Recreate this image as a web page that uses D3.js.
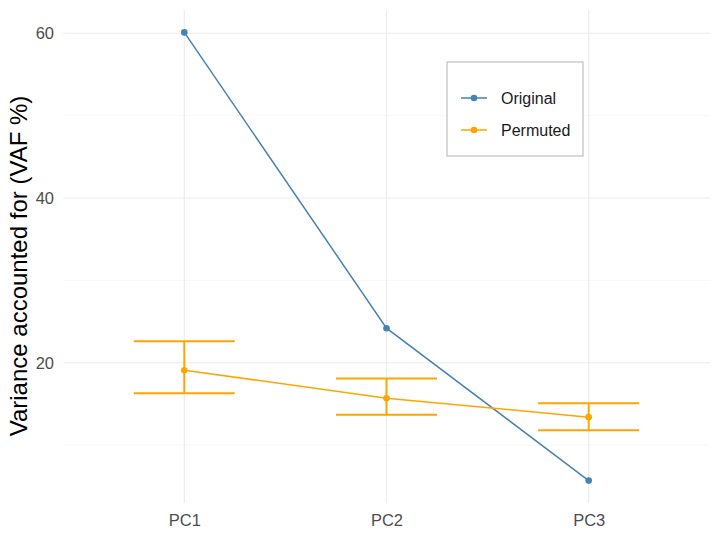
<!DOCTYPE html>
<html>
<head>
<meta charset="utf-8">
<script src="https://cdn.jsdelivr.net/npm/d3@7"></script>
<style>
  body { margin: 0; background: #fff; }
  text { font-family: "Liberation Sans", Arial, sans-serif; }
</style>
</head>
<body>
<div id="chart"></div>
<script>
// data
var components = ["PC1", "PC2", "PC3"];
var originalVaf = [60.1, 24.2, 5.7];
var permutedVaf = [19.1, 15.7, 13.4];
var permutedLow = [16.3, 13.7, 11.8];
var permutedHigh = [22.6, 18.1, 15.1];
var yTicks = [20, 40, 60];
var yMinorTicks = [10, 30, 50];
var seriesNames = ["Original", "Permuted"];
var seriesColors = ["#4682B4", "#FFA500"];

function init() {
    var W = 720, H = 539;
    var margin = { top: 10, right: 10, bottom: 36, left: 63 },
        w = W - margin.left - margin.right,
        h = H - margin.top - margin.bottom;

    var svg = d3.select("#chart")
        .append("svg")
        .attr("width", W)
        .attr("height", H);

    var g = svg.append("g")
        .attr("transform", `translate(${margin.left},${margin.top})`);

    // discrete x like ggplot: 0.6 unit padding each side
    var xScale = d3.scaleLinear()
        .domain([0.4, components.length + 0.6])
        .range([0, w]);
    var xPos = i => xScale(i + 1);

    // y domain with 5% expansion
    var allVals = originalVaf.concat(permutedLow, permutedHigh);
    var lo = d3.min(allVals), hi = d3.max(allVals), pad = (hi - lo) * 0.05;
    var yScale = d3.scaleLinear()
        .domain([lo - pad, hi + pad])
        .range([h, 0]);

    // grid lines
    g.selectAll(".minor")
        .data(yMinorTicks)
        .enter()
        .append("line")
        .attr("x1", 0).attr("x2", w)
        .attr("y1", d => yScale(d)).attr("y2", d => yScale(d))
        .style("stroke", "#f2f2f2")
        .style("stroke-width", 0.6);

    g.selectAll(".major")
        .data(yTicks)
        .enter()
        .append("line")
        .attr("x1", 0).attr("x2", w)
        .attr("y1", d => yScale(d)).attr("y2", d => yScale(d))
        .style("stroke", "#ebebeb")
        .style("stroke-width", 1.1);

    g.selectAll(".vgrid")
        .data(components)
        .enter()
        .append("line")
        .attr("x1", (d, i) => xPos(i)).attr("x2", (d, i) => xPos(i))
        .attr("y1", 0).attr("y2", h)
        .style("stroke", "#ebebeb")
        .style("stroke-width", 1.1);

    // axes (text only)
    var yAxis = g.append("g")
        .call(d3.axisLeft(yScale).tickValues(yTicks).tickSize(0).tickPadding(9));
    yAxis.select(".domain").remove();
    yAxis.selectAll("text")
        .style("font-size", "16.5px")
        .style("fill", "#4d4d4d");

    var xAxis = g.append("g")
        .attr("transform", `translate(0, ${h})`)
        .call(d3.axisBottom(xScale).tickValues([1, 2, 3])
            .tickFormat(d => components[d - 1]).tickSize(0).tickPadding(11));
    xAxis.select(".domain").remove();
    xAxis.selectAll("text")
        .style("font-size", "16.5px")
        .style("fill", "#4d4d4d");

    svg.append("text")
        .attr("transform", `translate(27, 266) rotate(-90)`)
        .attr("text-anchor", "middle")
        .style("font-size", "24px")
        .style("fill", "#000")
        .text("Variance accounted for (VAF %)");

    // error bars for permuted
    var ebHalf = (xScale(1.25) - xScale(1));
    var eb = g.selectAll(".eb")
        .data(components)
        .enter()
        .append("g");
    eb.append("line")
        .attr("x1", (d, i) => xPos(i)).attr("x2", (d, i) => xPos(i))
        .attr("y1", (d, i) => yScale(permutedLow[i]))
        .attr("y2", (d, i) => yScale(permutedHigh[i]));
    eb.append("line")
        .attr("x1", (d, i) => xPos(i) - ebHalf).attr("x2", (d, i) => xPos(i) + ebHalf)
        .attr("y1", (d, i) => yScale(permutedLow[i]))
        .attr("y2", (d, i) => yScale(permutedLow[i]));
    eb.append("line")
        .attr("x1", (d, i) => xPos(i) - ebHalf).attr("x2", (d, i) => xPos(i) + ebHalf)
        .attr("y1", (d, i) => yScale(permutedHigh[i]))
        .attr("y2", (d, i) => yScale(permutedHigh[i]));
    eb.selectAll("line")
        .style("stroke", seriesColors[1])
        .style("stroke-width", 2);

    // lines and points
    var line = d3.line()
        .x((d, i) => xPos(i))
        .y(d => yScale(d));

    [originalVaf, permutedVaf].forEach(function(vals, s) {
        g.append("path")
            .datum(vals)
            .attr("d", line)
            .style("fill", "none")
            .style("stroke", seriesColors[s])
            .style("stroke-width", 1.5);
        g.selectAll(".pt" + s)
            .data(vals)
            .enter()
            .append("circle")
            .attr("cx", (d, i) => xPos(i))
            .attr("cy", d => yScale(d))
            .attr("r", 3.3)
            .style("fill", seriesColors[s]);
    });

    // legend
    var legend = svg.append("g")
        .attr("transform", "translate(447, 62)");
    legend.append("rect")
        .attr("x", 0).attr("y", 0)
        .attr("width", 136).attr("height", 94)
        .style("fill", "#fff")
        .style("stroke", "#b3b3b3")
        .style("stroke-width", 1);
    var items = legend.selectAll(".item")
        .data(seriesNames)
        .enter()
        .append("g")
        .attr("transform", (d, i) => `translate(0, ${36 + i * 32})`);
    items.append("line")
        .attr("x1", 14).attr("x2", 40)
        .attr("y1", 0).attr("y2", 0)
        .style("stroke", (d, i) => seriesColors[i])
        .style("stroke-width", 1.5);
    items.append("circle")
        .attr("cx", 27).attr("cy", 0).attr("r", 3.3)
        .style("fill", (d, i) => seriesColors[i]);
    items.append("text")
        .attr("x", 54).attr("y", 5.5)
        .style("font-size", "16px")
        .style("fill", "#1a1a1a")
        .text(d => d);
}

window.onload = init;
</script>
</body>
</html>
